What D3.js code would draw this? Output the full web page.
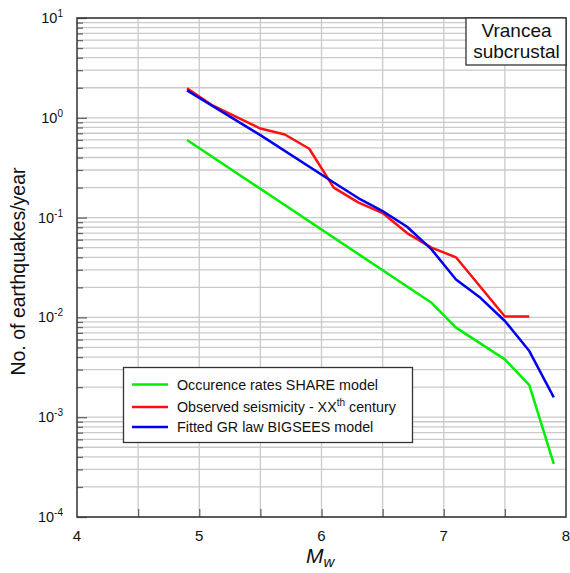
<!DOCTYPE html>
<html><head><meta charset="utf-8">
<script src="https://cdn.jsdelivr.net/npm/d3@7"></script>
<style>body{margin:0;background:#fff}svg{display:block;font-family:"Liberation Sans",Arial,sans-serif}</style>
</head><body>
<svg id="c" width="570" height="573"></svg>
<script>
// ---- data ----
const mwShare = [4.9, 6.9, 7.1, 7.5, 7.7, 7.9];
const rateShare = [0.6, 0.014, 0.0079, 0.0038, 0.0021, 0.00034];
const mwObs = [4.9, 5.1, 5.5, 5.7, 5.9, 6.1, 6.3, 6.5, 6.7, 6.9, 7.1, 7.5, 7.7];
const rateObs = [1.98, 1.35, 0.78, 0.68, 0.49, 0.20, 0.142, 0.111, 0.07, 0.05, 0.040, 0.0102, 0.0102];
const mwGR = [4.9, 5.5, 6.1, 6.3, 6.5, 6.7, 6.9, 7.1, 7.3, 7.5, 7.7, 7.9];
const rateGR = [1.88, 0.67, 0.225, 0.157, 0.116, 0.081, 0.048, 0.024, 0.0157, 0.0092, 0.0046, 0.00158];
const xTicks = [4, 5, 6, 7, 8];
const xGrid = [4.5, 5, 5.5, 6, 6.5, 7, 7.5];
const yExp = [1, 0, -1, -2, -3, -4];
const seriesNames = ["Occurence rates SHARE model", "Observed seismicity - XX", "Fitted GR law BIGSEES model"];
const seriesColors = ["#00ee00", "#ff1010", "#0000ee"];

// ---- layout ----
const L = 77, R = 566, T = 18, B = 517;
const svg = d3.select("#c");
const x = d3.scaleLinear().domain([4, 8]).range([L, R]);
const y = d3.scaleLog().domain([1e-4, 10]).range([B, T]);

// minor values
const minor = [];
for (let e = -4; e < 1; e++) for (let m = 2; m <= 9; m++) minor.push(m * Math.pow(10, e));
const major = yExp.map(e => Math.pow(10, e));

// grid
const g = svg.append("g").attr("stroke", "#cacaca").attr("stroke-width", 1.3);
minor.concat(major).forEach(v => g.append("line").attr("x1", L).attr("x2", R).attr("y1", y(v)).attr("y2", y(v)));
xGrid.forEach(v => g.append("line").attr("x1", x(v)).attr("x2", x(v)).attr("y1", T).attr("y2", B));

// axes ticks (inward)
const axL = svg.append("g").attr("transform", `translate(${L},0)`)
  .call(d3.axisLeft(y).tickValues(minor).tickSize(-6).tickFormat(""));
const axL2 = svg.append("g").attr("transform", `translate(${L},0)`)
  .call(d3.axisLeft(y).tickValues(major).tickSize(-10).tickFormat(""));
const axB = svg.append("g").attr("transform", `translate(0,${B})`)
  .call(d3.axisBottom(x).tickValues(xGrid).tickSize(-8).tickFormat(""));
[axL, axL2, axB].forEach(a => { a.select(".domain").remove(); a.selectAll("line").attr("stroke", "#666").attr("stroke-width", 1.3); });

// frame
svg.append("rect").attr("x", L).attr("y", T).attr("width", R - L).attr("height", B - T)
  .attr("fill", "none").attr("stroke", "#333").attr("stroke-width", 1.5);

// y tick labels
yExp.forEach(e => {
  const t = svg.append("text").attr("x", 63).attr("y", y(Math.pow(10, e)) + 5)
    .attr("text-anchor", "end").attr("font-size", 14.5).attr("fill", "#111");
  t.append("tspan").text("10");
  t.append("tspan").attr("dy", -6).attr("font-size", 10).text(String(e));
});
// x tick labels
xTicks.forEach(v => svg.append("text").attr("x", x(v)).attr("y", 541)
  .attr("text-anchor", "middle").attr("font-size", 15).attr("fill", "#111").text(v));

// axis titles
const xt = svg.append("text").attr("x", 306).attr("y", 563).attr("font-size", 21)
  .attr("font-style", "italic").attr("fill", "#111");
xt.append("tspan").text("M");
xt.append("tspan").attr("dy", 4).attr("font-size", 15).text("w");
svg.append("text").attr("transform", `translate(25,${(T + B) / 2 + 4}) rotate(-90)`)
  .attr("text-anchor", "middle").attr("font-size", 19.5).attr("fill", "#111")
  .text("No. of earthquakes/year");

// lines
const line = d3.line().x(d => x(d[0])).y(d => y(d[1]));
const series = [
  d3.zip(mwShare, rateShare),
  d3.zip(mwObs, rateObs),
  d3.zip(mwGR, rateGR)
];
series.forEach((s, i) => svg.append("path").datum(s).attr("d", line)
  .attr("fill", "none").attr("stroke", seriesColors[i]).attr("stroke-width", 2.5)
  .attr("stroke-linejoin", "round"));

// legend
const lg = svg.append("g");
lg.append("rect").attr("x", 123.5).attr("y", 367.5).attr("width", 289).attr("height", 75)
  .attr("fill", "#fff").attr("stroke", "#333").attr("stroke-width", 1.3);
const rowY = [384.5, 407, 427];
seriesNames.forEach((n, i) => {
  lg.append("line").attr("x1", 132).attr("x2", 168).attr("y1", rowY[i]).attr("y2", rowY[i])
    .attr("stroke", seriesColors[i]).attr("stroke-width", 2.5);
  const t = lg.append("text").attr("x", 177).attr("y", rowY[i] + 5).attr("font-size", 14.3).attr("fill", "#111").text(n);
  if (i === 1) {
    t.append("tspan").attr("dy", -6).attr("font-size", 10).text("th");
    t.append("tspan").attr("dy", 6).text(" century");
  }
});

// region label box
svg.append("rect").attr("x", 466).attr("y", T).attr("width", R - 466).attr("height", 47)
  .attr("fill", "#fff").attr("stroke", "#333").attr("stroke-width", 1.3);
svg.append("text").attr("x", 516.5).attr("y", 37).attr("text-anchor", "middle").attr("font-size", 19).attr("fill", "#111").text("Vrancea");
svg.append("text").attr("x", 516.5).attr("y", 58).attr("text-anchor", "middle").attr("font-size", 19).attr("fill", "#111").text("subcrustal");
</script>
</body></html>
